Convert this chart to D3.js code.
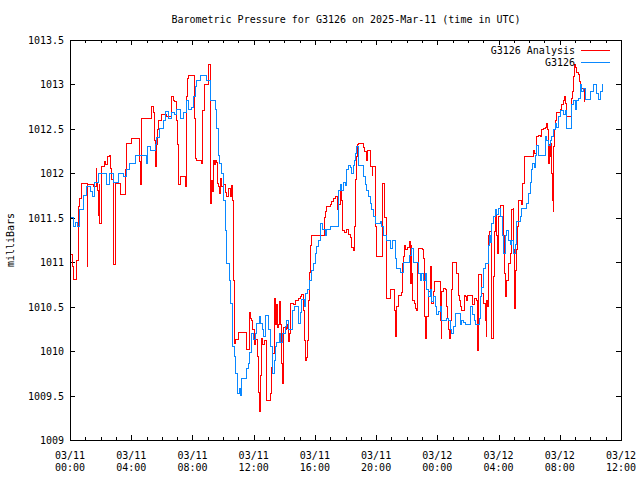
<!DOCTYPE html>
<html><head><meta charset="utf-8">
<script src="https://cdn.jsdelivr.net/npm/d3@7"></script>
<style>
body{margin:0;background:#fff}
svg text{font-family:"DejaVu Sans Mono","Liberation Mono",monospace;font-size:10px;fill:#000}
</style>
</head><body>
<svg id="chart" width="640" height="480"></svg>
<script>
const chartTitle = "Barometric Pressure for G3126 on 2025-Mar-11 (time in UTC)";
const yAxisLabel = "milliBars";
const seriesNames = ["G3126 Analysis", "G3126"];
const seriesColors = ["#ff0000", "#0a88ff"];
const xTickHours = [0, 4, 8, 12, 16, 20, 24, 28, 32, 36];
const xTickDates = ["03/11","03/11","03/11","03/11","03/11","03/11","03/12","03/12","03/12","03/12"];
const xTickTimes = ["00:00","04:00","08:00","12:00","16:00","20:00","00:00","04:00","08:00","12:00"];
const yTicks = [1009, 1009.5, 1010, 1010.5, 1011, 1011.5, 1012, 1012.5, 1013, 1013.5];

// G3126 Analysis (hours since 03/11 00:00 UTC, mb)
const analysisHours = [0.00,0.18,0.22,0.44,0.54,0.65,0.76,1.13,1.16,1.52,1.70,1.76,1.81,1.88,1.91,1.96,2.03,2.24,2.35,2.46,2.61,2.66,2.72,2.83,2.96,3.05,3.27,3.64,3.71,4.03,4.53,4.59,4.64,4.69,5.34,5.44,5.49,5.56,5.60,5.67,5.71,5.80,5.99,6.32,6.65,6.75,6.86,6.97,7.01,7.08,7.19,7.41,7.52,7.58,7.63,7.69,7.73,8.12,8.22,8.28,8.61,8.67,8.76,9.04,9.15,9.22,9.28,9.37,9.43,9.50,9.59,9.63,9.69,9.76,9.85,9.93,10.02,10.13,10.24,10.35,10.46,10.52,10.59,10.67,10.72,10.83,11.00,11.50,11.76,11.81,11.88,11.94,12.03,12.09,12.27,12.31,12.37,12.44,12.48,12.59,12.70,12.86,13.12,13.18,13.25,13.33,13.40,13.46,13.55,13.61,13.68,13.77,13.84,13.88,13.94,14.05,14.12,14.20,14.27,14.33,14.38,14.59,14.71,14.92,15.03,15.14,15.25,15.31,15.38,15.47,15.51,15.57,15.64,15.69,15.80,16.60,16.67,16.78,16.99,17.10,17.21,17.32,17.50,17.56,17.65,17.71,17.76,17.82,17.91,18.04,18.17,18.30,18.41,18.50,18.56,18.63,18.69,18.78,18.84,19.17,19.23,19.39,19.43,19.65,19.74,19.78,19.98,20.05,20.41,20.54,20.65,20.96,21.19,21.26,21.31,21.35,21.46,21.63,21.70,21.78,21.85,21.94,22.07,22.18,22.22,22.29,22.33,22.37,22.50,22.57,22.63,22.70,22.76,23.05,23.09,23.16,23.20,23.27,23.42,23.53,23.57,23.64,23.75,23.81,24.18,24.25,24.29,24.40,24.51,24.58,24.66,24.73,24.79,24.88,24.95,25.01,25.23,25.38,25.45,25.54,25.60,25.77,25.86,25.93,25.99,26.27,26.42,26.58,26.62,26.69,26.91,27.00,27.12,27.19,27.24,27.30,27.34,27.41,27.52,27.58,27.67,27.71,27.78,27.89,27.93,27.99,28.10,28.28,28.32,28.37,28.43,28.50,28.54,28.65,28.76,28.87,28.97,29.00,29.02,29.08,29.15,29.24,29.31,29.52,29.59,29.67,30.28,30.37,30.50,30.61,30.72,30.83,30.93,31.05,31.16,31.22,31.29,31.32,31.37,31.42,31.48,31.52,31.57,31.61,31.65,31.70,31.76,32.03,32.14,32.24,32.29,32.35,32.42,32.75,32.83,32.90,32.96,33.05,33.12,33.22,33.29,33.33,33.44,33.59,33.62];
const analysisValues = [1011.09,1010.95,1010.81,1011.02,1011.63,1011.72,1011.89,1010.95,1011.88,1011.85,1012.06,1011.90,1011.81,1011.53,1011.88,1011.44,1012.08,1012.13,1012.10,1012.19,1012.20,1012.06,1011.93,1010.97,1011.89,1011.89,1011.76,1012.04,1012.34,1012.39,1012.13,1011.87,1012.56,1012.62,1012.75,1012.68,1012.37,1012.21,1012.08,1012.32,1012.49,1012.60,1012.66,1012.64,1012.86,1012.82,1012.81,1012.60,1012.32,1011.87,1011.96,1011.97,1011.85,1012.45,1012.86,1013.07,1013.10,1012.62,1012.17,1012.15,1012.11,1012.71,1013.00,1013.22,1011.66,1011.92,1011.80,1012.15,1012.10,1012.15,1012.12,1011.89,1011.85,1011.77,1011.94,1011.85,1011.87,1011.79,1011.74,1011.83,1011.74,1011.86,1011.70,1010.80,1010.09,1010.13,1010.21,1010.02,1010.43,1010.37,1010.35,1010.24,1010.07,1010.13,1009.94,1009.54,1009.32,1009.73,1010.14,1010.07,1010.12,1009.45,1009.52,1009.82,1009.97,1010.59,1010.30,1010.52,1010.27,1010.30,1010.56,1010.30,1009.86,1009.64,1010.27,1010.24,1010.30,1010.26,1010.11,1010.20,1010.54,1010.52,1010.57,1010.59,1010.61,1010.64,1010.46,1010.12,1009.90,1009.93,1010.12,1010.57,1010.89,1011.19,1011.30,1011.50,1011.57,1011.63,1011.65,1011.68,1011.72,1011.74,1011.59,1011.65,1011.85,1011.88,1011.70,1011.36,1011.34,1011.37,1011.31,1011.28,1011.17,1011.13,1011.40,1011.93,1012.19,1012.32,1012.34,1012.29,1012.25,1012.15,1012.26,1012.08,1011.98,1012.08,1011.40,1011.07,1011.89,1011.50,1010.59,1010.69,1010.46,1010.16,1010.46,1010.50,1010.63,1010.66,1010.99,1011.06,1011.19,1011.14,1011.17,1011.23,1010.76,1011.19,1010.87,1010.57,1010.54,1010.48,1010.46,1010.99,1011.16,1011.14,1011.04,1010.39,1010.14,1010.39,1010.67,1010.91,1010.95,1010.54,1010.67,1010.78,1010.35,1010.14,1010.67,1010.71,1010.69,1010.50,1010.37,1010.24,1010.14,1010.35,1010.69,1011.00,1010.87,1010.63,1010.57,1010.50,1010.46,1010.63,1010.61,1010.57,1010.63,1010.52,1010.59,1010.57,1010.01,1010.86,1010.65,1010.54,1010.35,1010.16,1010.57,1010.50,1011.30,1011.35,1010.14,1010.14,1010.84,1011.35,1011.55,1011.30,1011.10,1011.52,1011.64,1011.64,1011.30,1010.87,1010.61,1010.67,1010.80,1010.99,1011.10,1011.59,1011.60,1011.14,1010.48,1010.91,1011.14,1011.40,1011.70,1011.65,1011.89,1012.19,1012.26,1012.22,1012.41,1012.43,1012.41,1012.49,1012.50,1012.52,1012.56,1012.49,1012.11,1012.32,1012.19,1012.34,1012.00,1011.70,1011.57,1012.30,1012.49,1012.60,1012.69,1012.72,1012.77,1012.82,1012.86,1012.79,1012.64,1012.84,1012.92,1013.09,1013.22,1013.19,1013.13,1013.11,1013.03,1012.99,1012.96,1012.83,1012.80];

// G3126 observations
const obsHours = [0.00,0.26,0.36,0.46,0.65,0.87,1.09,1.31,1.44,1.59,1.85,2.40,2.61,2.83,3.16,3.48,3.71,3.92,4.25,4.97,5.05,5.23,5.56,5.67,5.88,6.10,6.21,6.42,6.65,6.86,6.97,7.19,7.41,7.63,7.73,7.95,8.06,8.17,8.28,8.50,8.93,9.15,9.48,9.59,9.69,9.80,9.92,10.02,10.13,10.24,10.39,10.50,10.61,10.72,10.83,10.93,11.05,11.16,11.22,11.55,11.65,11.72,11.83,11.96,12.09,12.20,12.37,12.46,12.57,12.63,12.75,12.96,13.12,13.25,13.33,13.40,13.51,13.66,13.77,13.90,14.05,14.16,14.27,14.56,14.64,14.92,15.03,15.14,15.29,15.36,15.51,15.64,15.80,15.90,16.01,16.12,16.23,16.39,16.52,16.67,16.78,16.99,17.54,17.65,17.76,17.86,17.97,18.08,18.19,18.30,18.41,18.52,18.58,18.65,18.74,18.84,19.17,19.28,19.39,19.50,19.61,19.72,19.82,19.93,20.26,20.37,20.48,20.65,20.96,21.09,21.24,21.35,21.57,21.78,22.18,22.33,22.44,22.76,22.88,22.99,23.09,23.20,23.31,23.42,23.53,23.64,23.75,23.86,23.97,24.07,24.18,24.29,24.62,24.73,24.84,24.95,25.05,25.16,25.49,25.60,25.71,25.82,26.19,26.32,26.41,26.47,26.73,26.80,26.91,27.01,27.12,27.34,27.41,27.50,27.56,27.67,27.78,27.89,27.99,28.10,28.24,28.30,28.43,28.54,28.65,28.76,28.87,28.97,29.08,29.19,29.41,29.52,29.85,29.95,30.07,30.18,30.24,30.33,30.39,30.50,30.61,31.05,31.16,31.26,31.37,31.48,31.59,31.70,31.81,31.91,32.03,32.24,32.35,32.42,32.79,32.90,33.01,33.12,33.22,33.33,33.44,33.54,33.66,34.02,34.20,34.38,34.53,34.67,34.82];
const obsValues = [1011.50,1011.40,1011.45,1011.40,1011.59,1011.75,1011.85,1011.80,1011.74,1011.90,1012.00,1011.87,1012.00,1011.90,1012.00,1011.96,1012.04,1012.11,1012.20,1012.11,1012.30,1012.26,1012.32,1012.40,1012.50,1012.60,1012.70,1012.62,1012.68,1012.66,1012.72,1012.62,1012.68,1012.82,1012.72,1012.74,1012.87,1012.98,1013.05,1013.10,1013.05,1012.82,1012.72,1012.50,1012.20,1012.11,1012.00,1011.70,1011.36,1010.99,1010.80,1010.54,1010.05,1009.94,1009.75,1009.52,1009.58,1009.50,1009.69,1009.80,1009.86,1009.98,1010.20,1010.13,1010.20,1010.31,1010.39,1010.31,1010.24,1010.16,1010.40,1010.24,1010.05,1009.75,1009.90,1010.05,1010.10,1010.20,1010.10,1010.20,1010.28,1010.35,1010.24,1010.46,1010.50,1010.31,1010.43,1010.58,1010.50,1010.65,1010.69,1010.80,1010.91,1010.99,1011.10,1011.18,1011.25,1011.44,1011.37,1011.30,1011.37,1011.40,1011.81,1011.88,1011.81,1011.90,1011.86,1012.04,1012.09,1012.07,1012.00,1012.09,1012.15,1012.22,1012.30,1012.09,1011.96,1011.88,1011.81,1011.74,1011.66,1011.59,1011.52,1011.44,1011.46,1011.40,1011.30,1011.25,1011.16,1011.25,1011.04,1010.93,1010.89,1011.00,1011.08,1011.15,1011.00,1010.87,1010.80,1010.87,1010.80,1010.87,1010.69,1010.62,1010.69,1010.56,1010.62,1010.50,1010.41,1010.45,1010.50,1010.35,1010.37,1010.35,1010.24,1010.20,1010.28,1010.42,1010.30,1010.35,1010.32,1010.30,1010.50,1010.41,1010.35,1010.30,1010.37,1010.61,1010.72,1010.93,1010.99,1011.19,1011.30,1011.22,1011.44,1011.51,1011.59,1011.54,1011.60,1011.51,1011.30,1011.10,1011.30,1011.36,1011.25,1011.20,1011.25,1011.10,1011.20,1011.46,1011.52,1011.61,1011.66,1011.77,1011.90,1012.04,1012.11,1012.07,1012.20,1012.31,1012.20,1012.41,1012.37,1012.31,1012.37,1012.41,1012.49,1012.56,1012.52,1012.64,1012.71,1012.66,1012.71,1012.50,1012.78,1012.82,1012.72,1012.82,1012.84,1013.00,1012.92,1012.96,1012.83,1012.92,1013.00,1012.90,1012.83,1012.92,1013.00];

const svg = d3.select("#chart");
const plotLeft = 70, plotRight = 621, plotTop = 40, plotBottom = 440;
const x = d3.scaleLinear().domain([0, 36]).range([plotLeft, plotRight]);
const y = d3.scaleLinear().domain([1009, 1013.5]).range([plotBottom, plotTop]);

svg.append("text").attr("x", 346).attr("y", 23).attr("text-anchor", "middle").text(chartTitle);
svg.append("text").attr("transform", "translate(14,240) rotate(-90)").attr("text-anchor", "middle").text(yAxisLabel);

const minorHours = d3.range(0, 37);
const axG = svg.append("g").attr("shape-rendering", "crispEdges");
axG.append("g").attr("transform", `translate(0,${plotBottom})`)
  .call(d3.axisBottom(x).tickValues(minorHours).tickSize(-3).tickFormat(""));
axG.append("g").attr("transform", `translate(0,${plotBottom})`)
  .call(d3.axisBottom(x).tickValues(xTickHours).tickSize(-5).tickFormat(""));
axG.append("g").attr("transform", `translate(0,${plotTop})`)
  .call(d3.axisTop(x).tickValues(minorHours).tickSize(-3).tickFormat(""));
axG.append("g").attr("transform", `translate(0,${plotTop})`)
  .call(d3.axisTop(x).tickValues(xTickHours).tickSize(-5).tickFormat(""));
const leftAxis = axG.append("g").attr("transform", `translate(${plotLeft},0)`)
  .call(d3.axisLeft(y).tickValues(yTicks).tickSize(-5).tickFormat(d => String(d)));
axG.append("g").attr("transform", `translate(${plotRight},0)`)
  .call(d3.axisRight(y).tickValues(yTicks).tickSize(-5).tickFormat(""));
axG.selectAll(".domain").remove();
axG.selectAll("line").attr("stroke", "#000");
leftAxis.selectAll("text").attr("x", -6).attr("dy", "0.35em")
  .style("font-family", '"DejaVu Sans Mono",monospace').style("font-size", "10px").attr("fill", "#000");

const xl = svg.append("g");
xTickHours.forEach((h, i) => {
  const t = xl.append("text").attr("x", x(h)).attr("text-anchor", "middle");
  t.append("tspan").attr("x", x(h)).attr("y", 459).text(xTickDates[i]);
  t.append("tspan").attr("x", x(h)).attr("y", 471).text(xTickTimes[i]);
});

const line = d3.line().x(d => x(d[0])).y(d => y(d[1])).curve(d3.curveStepAfter);
const analysis = analysisHours.map((h, i) => [h, analysisValues[i]]);
const obs = obsHours.map((h, i) => [h, obsValues[i]]);
[analysis, obs].forEach((s, i) => {
  svg.append("path").datum(s).attr("d", line).attr("fill", "none")
    .attr("stroke", seriesColors[i]).attr("stroke-width", 1).attr("shape-rendering", "crispEdges");
});

svg.append("rect").attr("x", plotLeft).attr("y", plotTop).attr("width", plotRight - plotLeft).attr("height", plotBottom - plotTop)
  .attr("fill", "none").attr("stroke", "#000").attr("shape-rendering", "crispEdges");

seriesNames.forEach((n, i) => {
  const ly = 50 + i * 12;
  svg.append("text").attr("x", 575).attr("y", ly).attr("dy", "0.35em").attr("text-anchor", "end").text(n);
  svg.append("line").attr("x1", 581).attr("x2", 610).attr("y1", ly).attr("y2", ly)
    .attr("stroke", seriesColors[i]).attr("shape-rendering", "crispEdges");
});
</script>
</body></html>
